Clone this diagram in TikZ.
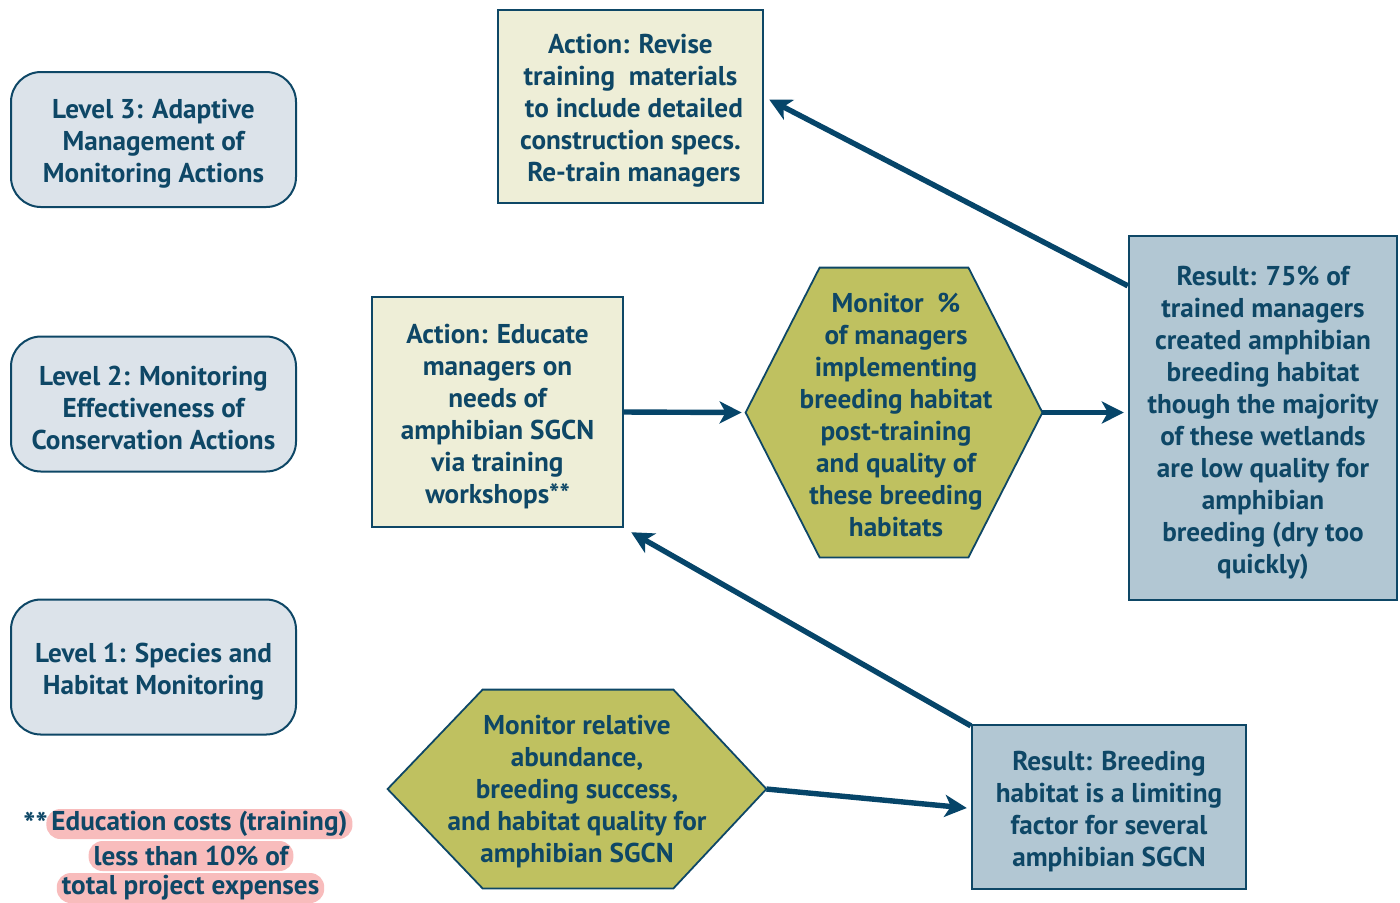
\documentclass[tikz,border=0pt]{standalone}
\usepackage{fontspec}
\setmainfont{PT Sans}
\usetikzlibrary{arrows.meta,calc}
\definecolor{navy}{HTML}{0E4766}
\definecolor{arrowc}{HTML}{064569}
\definecolor{levelfill}{HTML}{DCE3EA}
\definecolor{actfill}{HTML}{EEEED7}
\definecolor{hexfill}{HTML}{BFC160}
\definecolor{resfill}{HTML}{B2C7D3}
\definecolor{pinkhl}{HTML}{F8BCBC}
\newcommand{\tp}{\rule{0pt}{14pt}}
\tikzset{
  txt/.style={font=\fontsize{13.6}{16}\selectfont\bfseries, text=navy, align=center, inner sep=0pt},
  levelbox/.style={txt, draw=navy, line width=1pt, fill=levelfill, rounded corners=15pt, minimum width=142.5pt, minimum height=67.5pt},
  actbox/.style={txt, draw=navy, line width=1.2pt, fill=actfill},
  resbox/.style={txt, draw=navy, line width=1.2pt, fill=resfill},
  hexline/.style={draw=navy, line width=0.9pt, fill=hexfill},
  conn/.style={draw=arrowc, line width=2.7pt, -{Stealth[length=11pt,width=11pt,inset=3pt]}},
  hl/.style={txt, fill=pinkhl, rounded corners=7pt, inner xsep=2.5pt, minimum height=15pt},
}
\begin{document}
\begin{tikzpicture}[x=0.5pt,y=-0.5pt]
\useasboundingbox[fill=white] (0,0) rectangle (1400,902);

% level boxes
\node[levelbox] (l3) at (153.5,139.5) {\tp Level 3: Adaptive\\Management of\\Monitoring Actions};
\node[levelbox] (l2) at (153.5,404) {\tp Level 2: Monitoring\\Effectiveness of\\Conservation Actions};
\node[levelbox] (l1) at (153.5,667) {\tp Level 1: Species and\\Habitat Monitoring};

% action boxes
\node[actbox, minimum width=132.5pt, minimum height=96.5pt] (atop) at (630.5,106.5)
  {\tp Action: Revise\\training\ \ materials\\\ to include detailed\\construction specs.\\\ Re-train managers};
\node[actbox, minimum width=125.5pt, minimum height=115pt] (amid) at (497.5,412)
  {\tp Action: Educate\\managers on\\needs of\\amphibian SGCN\\via training\\workshops**};

% hexagon (middle)
\node[inner sep=0pt, minimum width=148pt, minimum height=144.5pt] (hmid) at (894,412.5) {};
\path[hexline] (hmid.west) -- ($(hmid.north west)+(74,0)$) -- ($(hmid.north east)+(-74,0)$)
  -- (hmid.east) -- ($(hmid.south east)+(-74,0)$) -- ($(hmid.south west)+(74,0)$) -- cycle;
\node[txt] (hmidt) at (896,411) {\tp Monitor\ \ \%\\of managers\\implementing\\breeding habitat\\post-training\\and quality of\\these breeding\\habitats};

% hexagon (bottom)
\node[inner sep=0pt, minimum width=189pt, minimum height=99pt] (hbot) at (577,789) {};
\path[hexline] (hbot.west) -- ($(hbot.north west)+(95,0)$) -- ($(hbot.north east)+(-93,0)$)
  -- (hbot.east) -- ($(hbot.south east)+(-93,0)$) -- ($(hbot.south west)+(95,0)$) -- cycle;
\node[txt] (hbott) at (577,787) {\tp Monitor relative\\abundance,\\breeding success,\\and habitat quality for\\amphibian SGCN};

% result boxes
\node[resbox, minimum width=134pt, minimum height=182pt] (rtop) at (1263,418)
  {\tp Result: 75\% of\\trained managers\\created amphibian\\breeding habitat\\though the majority\\of these wetlands\\are low quality for\\amphibian\\breeding (dry too\\quickly)};
\node[resbox, minimum width=137pt, minimum height=82pt] (rbot) at (1109,807)
  {\tp Result: Breeding\\habitat is a limiting\\factor for several\\amphibian SGCN};

% footnote
\node[hl, anchor=west] (f1) at (46,824) {Education costs (training)};
\node[txt, anchor=east, xshift=1pt] (fstar) at (f1.west) {\raisebox{-3pt}{\fontsize{16}{16}\selectfont **}};
\node[hl] (f2) at (191,856) {less than 10\% of};
\node[hl] (f3) at (190.5,888) {total project expenses};

% connectors
\coordinate (c1s) at (amid.east);
\coordinate (c1e) at ($(hmid.west)+(-4,0)$);
\draw[conn] (c1s) -- (c1e);
\coordinate (c2e) at ($(rtop.west |- hmid.east)+(-4,0)$);
\draw[conn] (hmid.east) -- (c2e);
\coordinate (c3s) at ($(rtop.north west)+(0,51)$);
\coordinate (c3e) at ($(atop.east)+(5,-7)$);
\draw[conn] (c3s) -- (c3e);
\coordinate (c4e) at ($(rbot.west)+(-4,1)$);
\draw[conn] (hbot.east) -- (c4e);
\coordinate (c5s) at ($(rbot.north west)+(0,2)$);
\coordinate (c5e) at ($(amid.south east)+(7,4)$);
\draw[conn] (c5s) -- (c5e);
\end{tikzpicture}
\end{document}
